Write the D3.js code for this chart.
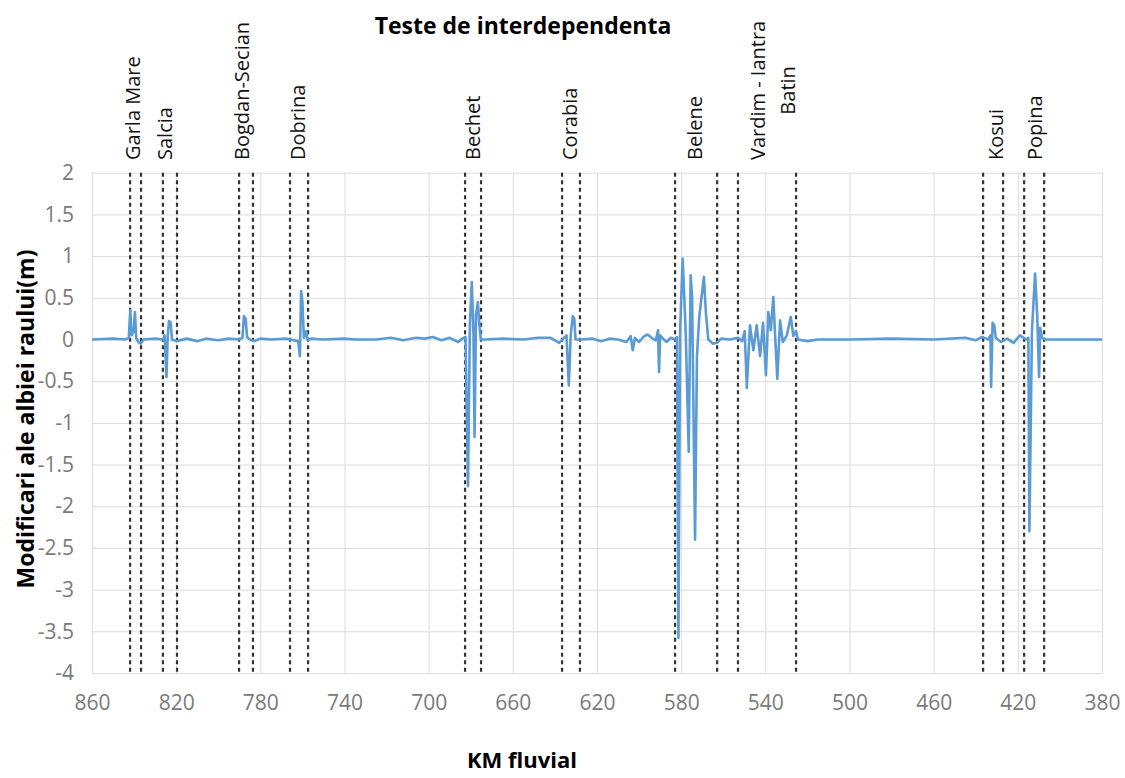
<!DOCTYPE html>
<html>
<head>
<meta charset="utf-8">
<script src="https://cdn.jsdelivr.net/npm/d3@7"></script>
<style>
  body { margin: 0; background: #fff; }
  svg text { font-family: "Open Sans", sans-serif; }
  .grid line { stroke: #dcdcdc; stroke-width: 1; }
  .grid path { display: none; }
  .axis path, .axis line { display: none; }
  .axis text { fill: #7a7a7a; font-size: 21px; }
</style>
</head>
<body>
<svg id="chart" width="1125" height="778"></svg>
<script>
// river kilometre (fluvial) and bed change in metres
var km = [860, 850, 844, 842.5, 841.8, 841.2, 840.2, 839.6, 839.0, 838, 836.8, 835.5,
  830, 826, 825.5, 824.6, 824.0, 823.4, 822.6, 822, 819.8, 815, 810, 806, 800, 795,
  790, 788.5, 787.8, 787.0, 786.3, 785, 783, 780, 775, 768, 766, 762, 761.2, 760.6,
  760.0, 759.3, 758.2, 757.5, 756, 750, 740, 735, 725, 718, 712, 706, 702, 698, 694,
  690, 686, 684, 682.5, 681.3, 680.4, 679.5, 678.7, 678.2, 677.5, 676.6, 676.0, 675.2,
  673, 665, 655, 648, 642, 638, 636, 634.5, 633.4, 632.5, 631.5, 630.8, 630.2, 628,
  622, 618, 614, 610, 606, 604, 603, 602, 600, 598, 596, 594, 592, 591, 590.5, 590,
  589, 587, 585, 583, 582, 581.3, 580.5, 579.3, 578.5, 577.8, 576.4, 575.5, 574.8,
  573.4, 572.5, 571.4, 569.2, 568.2, 567.1, 565, 563, 561, 557, 553, 551, 549.8,
  548.8, 547.3, 545.7, 544.1, 542.5, 541.1, 539.7, 538.6, 537.4, 536.2, 535.4, 534.3,
  533.0, 531.7, 529.8, 527.9, 526.7, 525.5, 524.5, 520, 515, 500, 480, 460, 445, 440,
  437, 434, 433, 432.7, 432.0, 431.2, 430.5, 428, 425, 422, 419, 416, 415, 414.5,
  413.3, 411.8, 410.8, 409.9, 409.4, 408.5, 407, 400, 380];
var change = [0, 0.01, 0, 0.02, 0.35, 0.05, 0.1, 0.33, 0.02, -0.03, -0.05, 0,
  0.01, 0, 0.05, -0.45, 0.05, 0.22, 0.2, 0, -0.02, 0.01, -0.02, 0.01, -0.01, 0.01,
  0, 0.02, 0.28, 0.25, 0.03, 0, -0.02, 0.01, 0, 0.01, 0, -0.02, -0.2, 0.58,
  0.45, 0.02, 0.1, -0.01, 0.01, 0, 0.01, 0, 0, 0.02, -0.01, 0.02, 0.01, 0.03, -0.01,
  0.02, -0.03, 0.01, 0.03, -1.76, 0.2, 0.69, 0.05, -1.17, 0.3, 0.45, 0.2, 0,
  0, 0.01, 0, 0.02, 0.02, -0.04, 0.01, 0.05, -0.55, 0.05, 0.28, 0.25, 0, 0,
  0.01, -0.02, 0.01, 0, -0.03, 0.04, -0.13, 0.02, -0.03, 0.03, 0.06, 0.02, -0.01, 0.11, -0.39, 0.05,
  0.02, -0.03, 0.02, 0, 0.03, -3.58, 0.1, 0.97, 0.5, 0.05, -1.35, 0.77, 0.5,
  -2.4, -0.2, 0.27, 0.75, 0.3, 0, -0.05, -0.04, 0.01, 0, 0.02, -0.02, 0.1,
  -0.58, 0.17, -0.13, 0.17, -0.2, 0.2, -0.43, 0.33, 0.11, 0.51, 0.07, -0.47,
  0.23, -0.03, 0.05, 0.27, 0.04, 0.1, 0, -0.02, 0, 0, 0.01, 0, 0.02, -0.01,
  0.03, 0, 0.05, -0.57, 0.2, 0.17, 0.02, -0.03, 0.01, -0.04, 0.05, 0, 0.02, -2.3,
  0.1, 0.79, 0.3, -0.45, 0.14, 0.02, 0, 0, 0];

var xTicks = [860, 820, 780, 740, 700, 660, 620, 580, 540, 500, 460, 420, 380];
var yTicks = [2, 1.5, 1, 0.5, 0, -0.5, -1, -1.5, -2, -2.5, -3, -3.5, -4];

// dashed limits of each studied sector
var sectorKm = [841.9, 836.7, 826.3, 819.6, 790.1, 783.5, 765.9, 757.3, 682.7, 675.1,
  636.6, 628.1, 582.9, 562.9, 553.0, 525.4, 436.5, 427.0, 417.0, 407.5];

var siteNames = ["Garla Mare", "Salcia", "Bogdan-Secian", "Dobrina", "Bechet", "Corabia",
  "Belene", "Vardim - Iantra|Batin", "Kosui", "Popina"];
var siteKm = [840.5, 825.3, 788.7, 762.1, 678.9, 632.8, 573.4, 543.5, 430.3, 411.8];

var margin = {top: 172.7, right: 23, bottom: 105, left: 92},
    width = 1125 - margin.left - margin.right,
    height = 778 - margin.top - margin.bottom;

var svg = d3.select("#chart");
var g = svg.append("g")
    .attr("transform", "translate(" + margin.left + "," + margin.top + ")");

var x = d3.scaleLinear().domain([860, 380]).range([0, width]);
var y = d3.scaleLinear().domain([-4, 2]).range([height, 0]);

// grid
g.append("g").attr("class", "grid")
    .call(d3.axisLeft(y).tickValues(yTicks).tickSize(-width).tickFormat(""));
g.append("g").attr("class", "grid")
    .call(d3.axisBottom(x).tickValues(xTicks).tickSize(height).tickFormat(""));

// axes labels
g.append("g").attr("class", "axis")
    .attr("transform", "translate(0," + height + ")")
    .call(d3.axisBottom(x).tickValues(xTicks).tickSize(0).tickPadding(22)
      .tickFormat(function(d) { return String(d); }));
g.append("g").attr("class", "axis")
    .call(d3.axisLeft(y).tickValues(yTicks).tickSize(0).tickPadding(18)
      .tickFormat(function(d) { return String(d); }));

// sector limits
g.selectAll(".sector")
    .data(sectorKm)
  .enter().append("line")
    .attr("class", "sector")
    .attr("x1", function(d) { return x(d); })
    .attr("x2", function(d) { return x(d); })
    .attr("y1", 0)
    .attr("y2", height)
    .style("stroke", "#333")
    .style("stroke-width", 2.2)
    .style("stroke-dasharray", "4,3.5");

// the series
var points = km.map(function(k, i) { return {km: k, v: change[i]}; });
var line = d3.line()
    .x(function(d) { return x(d.km); })
    .y(function(d) { return y(d.v); });

g.append("path")
    .datum(points)
    .attr("d", line)
    .style("fill", "none")
    .style("stroke", "#5b9bd5")
    .style("stroke-width", 2.6)
    .style("stroke-linejoin", "round");

// site names, rotated above the plot
var labelBottom = 160;
siteNames.forEach(function(name, i) {
  var parts = name.split("|");
  var cx = margin.left + x(siteKm[i]);
  var t = svg.append("text")
      .attr("transform", "translate(" + cx + "," + labelBottom + ") rotate(-90)")
      .attr("dy", "0.35em")
      .style("font-size", "20px")
      .style("fill", "#111")
      .text(parts[0]);
  if (parts.length > 1) {
    var len = t.node().getComputedTextLength();
    svg.append("text")
        .attr("transform", "translate(" + (cx + 30) + "," + (labelBottom - len / 2) + ") rotate(-90)")
        .attr("dy", "0.35em")
        .attr("text-anchor", "middle")
        .style("font-size", "20px")
        .style("fill", "#111")
        .text(parts[1]);
  }
});

// titles
svg.append("text")
    .attr("x", 523).attr("y", 34)
    .attr("text-anchor", "middle")
    .style("font-size", "23px").style("font-weight", "bold")
    .text("Teste de interdependenta");

svg.append("text")
    .attr("x", 522).attr("y", 768)
    .attr("text-anchor", "middle")
    .style("font-size", "22px").style("font-weight", "bold")
    .text("KM fluvial");

svg.append("text")
    .attr("transform", "translate(34,419) rotate(-90)")
    .attr("text-anchor", "middle")
    .style("font-size", "23px").style("font-weight", "bold")
    .text("Modificari ale albiei raului(m)");
</script>
</body>
</html>
